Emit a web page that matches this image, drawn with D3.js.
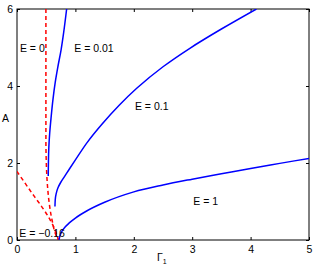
<!DOCTYPE html>
<html><head><meta charset="utf-8">
<script src="https://cdn.jsdelivr.net/npm/d3@7"></script>
<style>body{margin:0;background:#fff}text{font-family:"Liberation Sans",Arial,sans-serif;}</style>
</head><body>
<svg id="c" width="316" height="269"></svg>
<script>
const xTicks = [0,1,2,3,4,5];
const yTicks = [0,2,4,6];
const curveE1 = [[0.72,0],[0.73,0.08],[0.76,0.2],[0.82,0.33],[0.9,0.45],[1.0,0.57],[1.2,0.76],[1.5,0.98],[2,1.25],[2.5,1.43],[3,1.58],[3.5,1.72],[4,1.86],[4.5,1.99],[5,2.12]];
const curveE01 = [[0.65,0.87],[0.655,1.05],[0.67,1.2],[0.70,1.35],[0.75,1.5],[0.81,1.64],[0.9,1.85],[1.0,2.08],[1.2,2.53],[1.45,3.0],[1.75,3.5],[2.05,3.94],[2.5,4.5],[2.96,4.98],[3.5,5.48],[4.1,6.0]];
const curveE001 = [[0.535,1.66],[0.538,2.0],[0.545,2.4],[0.56,2.78],[0.585,3.2],[0.615,3.64],[0.655,4.1],[0.70,4.5],[0.755,4.94],[0.80,5.4],[0.85,6.0]];
const curveE0 = [[0.495,6],[0.495,2.6],[0.50,2.1],[0.515,1.56],[0.545,1.04],[0.6,0.52],[0.67,0.12],[0.71,0]];
const curveEm016 = [[0,1.78],[0.15,1.45],[0.3,1.12],[0.45,0.82],[0.58,0.5],[0.66,0.24],[0.71,0]];
const labels = [["E = 0",0.05,4.88],["E = 0.01",0.98,4.88],["E = 0.1",2.02,3.38],["E = 1",3.02,0.9],["E = \u22120.16",0.04,0.08]];

const svg = d3.select("#c");
const L=17,R=309,T=9,B=240;
const x = d3.scaleLinear().domain([0,5]).range([L,R]);
const y = d3.scaleLinear().domain([0,6]).range([B,T]);
const lineY = d3.line().x(d=>x(d[0])).y(d=>y(d[1])).curve(d3.curveMonotoneY);
const lineMX = d3.line().x(d=>x(d[0])).y(d=>y(d[1])).curve(d3.curveMonotoneX);
const lineB = d3.line().x(d=>x(d[0])).y(d=>y(d[1])).curve(d3.curveBasis);

const g = svg.append("g");
g.append("rect").attr("x",L).attr("y",T).attr("width",R-L).attr("height",B-T).attr("fill","none").attr("stroke","#000").attr("stroke-width",1);
const ax = g.append("g").attr("transform",`translate(0,${B})`).call(d3.axisBottom(x).tickValues(xTicks).tickSize(-3).tickPadding(6).tickFormat(d3.format("d")));
const axT = g.append("g").attr("transform",`translate(0,${T})`).call(d3.axisTop(x).tickValues(xTicks).tickSize(-3).tickFormat(""));
const ay = g.append("g").attr("transform",`translate(${L},0)`).call(d3.axisLeft(y).tickValues(yTicks).tickSize(-3).tickPadding(4).tickFormat(d3.format("d")));
const ayR = g.append("g").attr("transform",`translate(${R},0)`).call(d3.axisRight(y).tickValues(yTicks).tickSize(-3).tickFormat(""));
[ax,axT,ay,ayR].forEach(a=>{a.select(".domain").remove();a.selectAll("line").attr("stroke","#000");a.selectAll("text").attr("font-size",10.5).attr("fill","#000").style("font-family","Liberation Sans, Arial, sans-serif");});

svg.append("clipPath").attr("id","cp").append("rect").attr("x",L).attr("y",T).attr("width",R-L).attr("height",B-T);
const pg = svg.append("g").attr("clip-path","url(#cp)");
pg.append("path").attr("d",lineY(curveE0)).attr("fill","none").attr("stroke","#ff0000").attr("stroke-width",1.5).attr("stroke-dasharray","4,3");
pg.append("path").attr("d",lineB(curveEm016)).attr("fill","none").attr("stroke","#ff0000").attr("stroke-width",1.5).attr("stroke-dasharray","4,3");
pg.append("path").attr("d",lineY(curveE001)).attr("fill","none").attr("stroke","#0000ff").attr("stroke-width",1.5);
pg.append("path").attr("d",lineY(curveE01)).attr("fill","none").attr("stroke","#0000ff").attr("stroke-width",1.5);
pg.append("path").attr("d",lineMX(curveE1)).attr("fill","none").attr("stroke","#0000ff").attr("stroke-width",1.5);

labels.forEach(l=>{
  svg.append("text").attr("x",x(l[1])).attr("y",y(l[2])).attr("font-size",10.5).attr("fill","#000").text(l[0]);
});
svg.append("text").attr("x",2).attr("y",122).attr("font-size",10.5).text("A");
const gt = svg.append("text").attr("x",157).attr("y",261).attr("font-size",10.5);
gt.append("tspan").text("\u0393");
gt.append("tspan").attr("font-size",7).attr("dy",3).text("1");
</script>
</body></html>
